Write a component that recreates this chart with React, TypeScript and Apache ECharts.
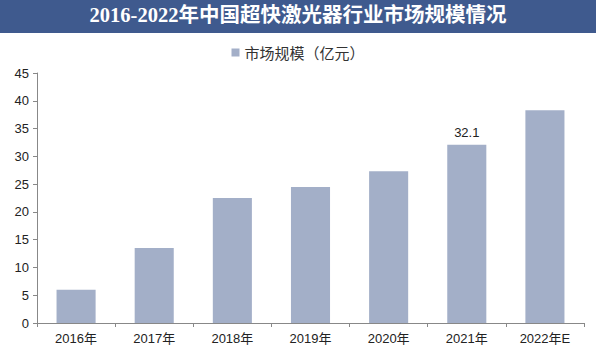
import React, { useEffect, useRef } from "react";
import * as echarts from "echarts";

const categories = ["2016年", "2017年", "2018年", "2019年", "2020年", "2021年", "2022年E"];
const values = [6.0, 13.5, 22.5, 24.5, 27.3, 32.1, 38.3];
const labeledIndex = 5;
const titleText = "2016-2022年中国超快激光器行业市场规模情况";
const seriesName = "市场规模（亿元）";

export default function App() {
  const ref = useRef<HTMLDivElement>(null);
  useEffect(() => {
    if (!ref.current) return;
    const chart = echarts.init(ref.current, null, { renderer: "svg" });
    chart.setOption({
      animation: false,
      backgroundColor: "#ffffff",
      graphic: [
        {
          type: "rect",
          left: 0,
          top: 0,
          shape: { width: 596, height: 33 },
          style: { fill: "#3f5a8e" },
          z: 0,
        },
        {
          type: "text",
          left: "center",
          top: 5,
          style: {
            text: titleText,
            fill: "#ffffff",
            font: "bold 20.5px 'Liberation Serif', 'DejaVu Serif', 'Noto Sans CJK SC', serif",
          },
          z: 1,
        },
      ],
      legend: {
        top: 40,
        left: "center",
        itemWidth: 8,
        itemHeight: 8,
        itemGap: 4,
        icon: "rect",
        textStyle: { fontSize: 15, color: "#333", fontFamily: "'Noto Sans CJK SC', sans-serif" },
        data: [seriesName],
      },
      grid: { left: 37, right: 12, top: 73, bottom: 36 },
      xAxis: {
        type: "category",
        data: categories,
        axisLine: { lineStyle: { color: "#888" } },
        axisTick: { show: true, alignWithLabel: false, length: 4, lineStyle: { color: "#888" } },
        axisLabel: { color: "#222", fontSize: 13, margin: 9, fontFamily: "Arial, 'Liberation Sans', 'Noto Sans CJK SC', sans-serif" },
      },
      yAxis: {
        type: "value",
        min: 0,
        max: 45,
        interval: 5,
        axisLine: { show: true, lineStyle: { color: "#888" } },
        axisTick: { show: true, length: 4, lineStyle: { color: "#888" } },
        splitLine: { show: false },
        axisLabel: { color: "#222", fontSize: 13, margin: 8, fontFamily: "Arial, 'Liberation Sans', sans-serif" },
      },
      series: [
        {
          name: seriesName,
          type: "bar",
          barWidth: "50%",
          itemStyle: { color: "#a3afc8" },
          data: values.map((v, i) =>
            i === labeledIndex
              ? {
                  value: v,
                  label: {
                    show: true,
                    position: "top",
                    distance: 6,
                    color: "#222",
                    fontSize: 13,
                    fontFamily: "Arial, 'Liberation Sans', sans-serif",
                  },
                }
              : v
          ),
        },
      ],
    });
    return () => chart.dispose();
  }, []);
  return (
    <div
      ref={ref}
      style={{ position: "absolute", left: 0, top: 0, width: 596, height: 359 }}
    />
  );
}
